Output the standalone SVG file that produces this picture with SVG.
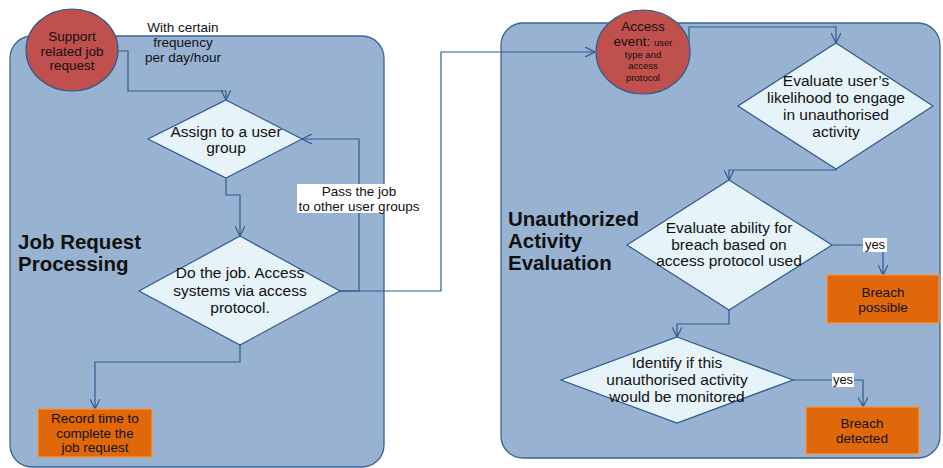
<svg xmlns="http://www.w3.org/2000/svg" width="943" height="468" viewBox="0 0 943 468">
<defs>
<marker id="arr" viewBox="0 0 10 10" refX="10" refY="5" markerWidth="10" markerHeight="10" markerUnits="userSpaceOnUse" orient="auto">
<path d="M0,0 L10,5 L0,10" fill="none" stroke="#2F5A8E" stroke-width="1.2"/>
</marker>
<style>
.panel{fill:#98B2D1;stroke:#3D6396;stroke-width:1.3}
.circ{fill:#C0504D;stroke:#2F5A8E;stroke-width:1.2}
.dia{fill:#E6F3F8;stroke:#2F5A8E;stroke-width:1.2}
.box{fill:#E0680A;stroke:#F79646;stroke-width:1.2}
.con{fill:none;stroke:#2F5A8E;stroke-width:1.2}
text{font-family:"Liberation Sans",Arial,sans-serif;fill:#111;text-anchor:middle}
.t{font-size:15.5px}
.s{font-size:13.5px}
.y{font-size:13px}
.xs{font-size:9.5px}
.big{font-size:20.5px;font-weight:bold;text-anchor:start}
.lbl{fill:#fff}
</style>
</defs>
<rect class="panel" x="10" y="36" width="374" height="431" rx="22"/>
<rect class="panel" x="501" y="23" width="439" height="435" rx="22"/>
<text class="big" x="18" y="249">Job Request</text>
<text class="big" x="18" y="271">Processing</text>
<text class="big" x="508" y="226">Unauthorized</text>
<text class="big" x="508" y="248">Activity</text>
<text class="big" x="508" y="270">Evaluation</text>

<g id="connectors">
<polyline class="con" points="118,51 128,51 128,91 226,91 226,100" marker-end="url(#arr)"/>
<polyline class="con" points="226,178 226,195 240,195 240,236" marker-end="url(#arr)"/>
<polyline class="con" points="340,291 359,291 359,139 302,139" marker-end="url(#arr)"/>
<polyline class="con" points="340,291 441,291 441,52 595,52" marker-end="url(#arr)"/>
<polyline class="con" points="240,345 240,362 95,362 95,409" marker-end="url(#arr)"/>
<polyline class="con" points="689,42 689,27 836,27 836,43" marker-end="url(#arr)"/>
<polyline class="con" points="836,169 836,170 729,170 729,180" marker-end="url(#arr)"/>
<polyline class="con" points="832,245 883,245 883,275" marker-end="url(#arr)"/>
<polyline class="con" points="729,310 729,324 677,324 677,337" marker-end="url(#arr)"/>
<polyline class="con" points="793,380 863,380 863,407" marker-end="url(#arr)"/>
<rect class="lbl" x="297" y="184" width="125" height="29"/>
<text class="s" x="359" y="196">Pass the job</text>
<text class="s" x="359" y="211">to other user groups</text>
<rect class="lbl" x="863" y="238" width="24" height="14"/>
<text class="y" x="875" y="249">yes</text>
<rect class="lbl" x="832" y="373" width="22" height="14"/>
<text class="y" x="843" y="384">yes</text>
<text class="s" x="183" y="32">With certain</text>
<text class="s" x="183" y="47">frequency</text>
<text class="s" x="183" y="62">per day/hour</text>
</g>

<g id="support">
<ellipse class="circ" cx="72" cy="50" rx="46" ry="41"/>
<text class="s" x="72" y="41">Support</text>
<text class="s" x="72" y="55.5">related job</text>
<text class="s" x="72" y="70">request</text>
</g>
<g id="assign">
<polygon class="dia" points="226,100 302,139 226,178 148,139"/>
<text class="t" x="226" y="137">Assign to a user</text>
<text class="t" x="226" y="153">group</text>
</g>
<g id="dojob">
<polygon class="dia" points="240,236 340,291 240,345 139,291"/>
<text class="t" x="240" y="278">Do the job. Access</text>
<text class="t" x="240" y="296">systems via access</text>
<text class="t" x="240" y="313">protocol.</text>
</g>
<g id="record">
<rect class="box" x="38" y="409" width="114" height="48"/>
<text class="s" x="95" y="423">Record time to</text>
<text class="s" x="95" y="437.5">complete the</text>
<text class="s" x="95" y="452">job request</text>
</g>
<g id="access">
<ellipse class="circ" cx="643" cy="52" rx="47" ry="42"/>
<text class="s" x="643" y="31">Access</text>
<text x="643" y="46"><tspan class="s">event: </tspan><tspan class="xs">user</tspan></text>
<text class="xs" x="643" y="58">type and</text>
<text class="xs" x="643" y="69">access</text>
<text class="xs" x="643" y="81">protocol</text>
</g>
<g id="likelihood">
<polygon class="dia" points="836,43 933,106 836,169 738,106"/>
<text class="t" x="836" y="86">Evaluate user’s</text>
<text class="t" x="836" y="103">likelihood to engage</text>
<text class="t" x="836" y="120">in unauthorised</text>
<text class="t" x="836" y="137">activity</text>
</g>
<g id="ability">
<polygon class="dia" points="729,180 832,245 729,310 627,245"/>
<text class="t" x="729" y="233">Evaluate ability for</text>
<text class="t" x="729" y="249.5">breach based on</text>
<text class="t" x="729" y="266">access protocol used</text>
</g>
<g id="possible">
<rect class="box" x="827" y="275" width="112" height="48"/>
<text class="s" x="883" y="297">Breach</text>
<text class="s" x="883" y="312">possible</text>
</g>
<g id="monitored">
<polygon class="dia" points="677,337 793,380 677,423 561,380"/>
<text class="t" x="677" y="368">Identify if this</text>
<text class="t" x="677" y="385">unauthorised activity</text>
<text class="t" x="677" y="402">would be monitored</text>
</g>
<g id="detected">
<rect class="box" x="806" y="407" width="113" height="47"/>
<text class="s" x="862" y="428">Breach</text>
<text class="s" x="862" y="443">detected</text>
</g>
</svg>
